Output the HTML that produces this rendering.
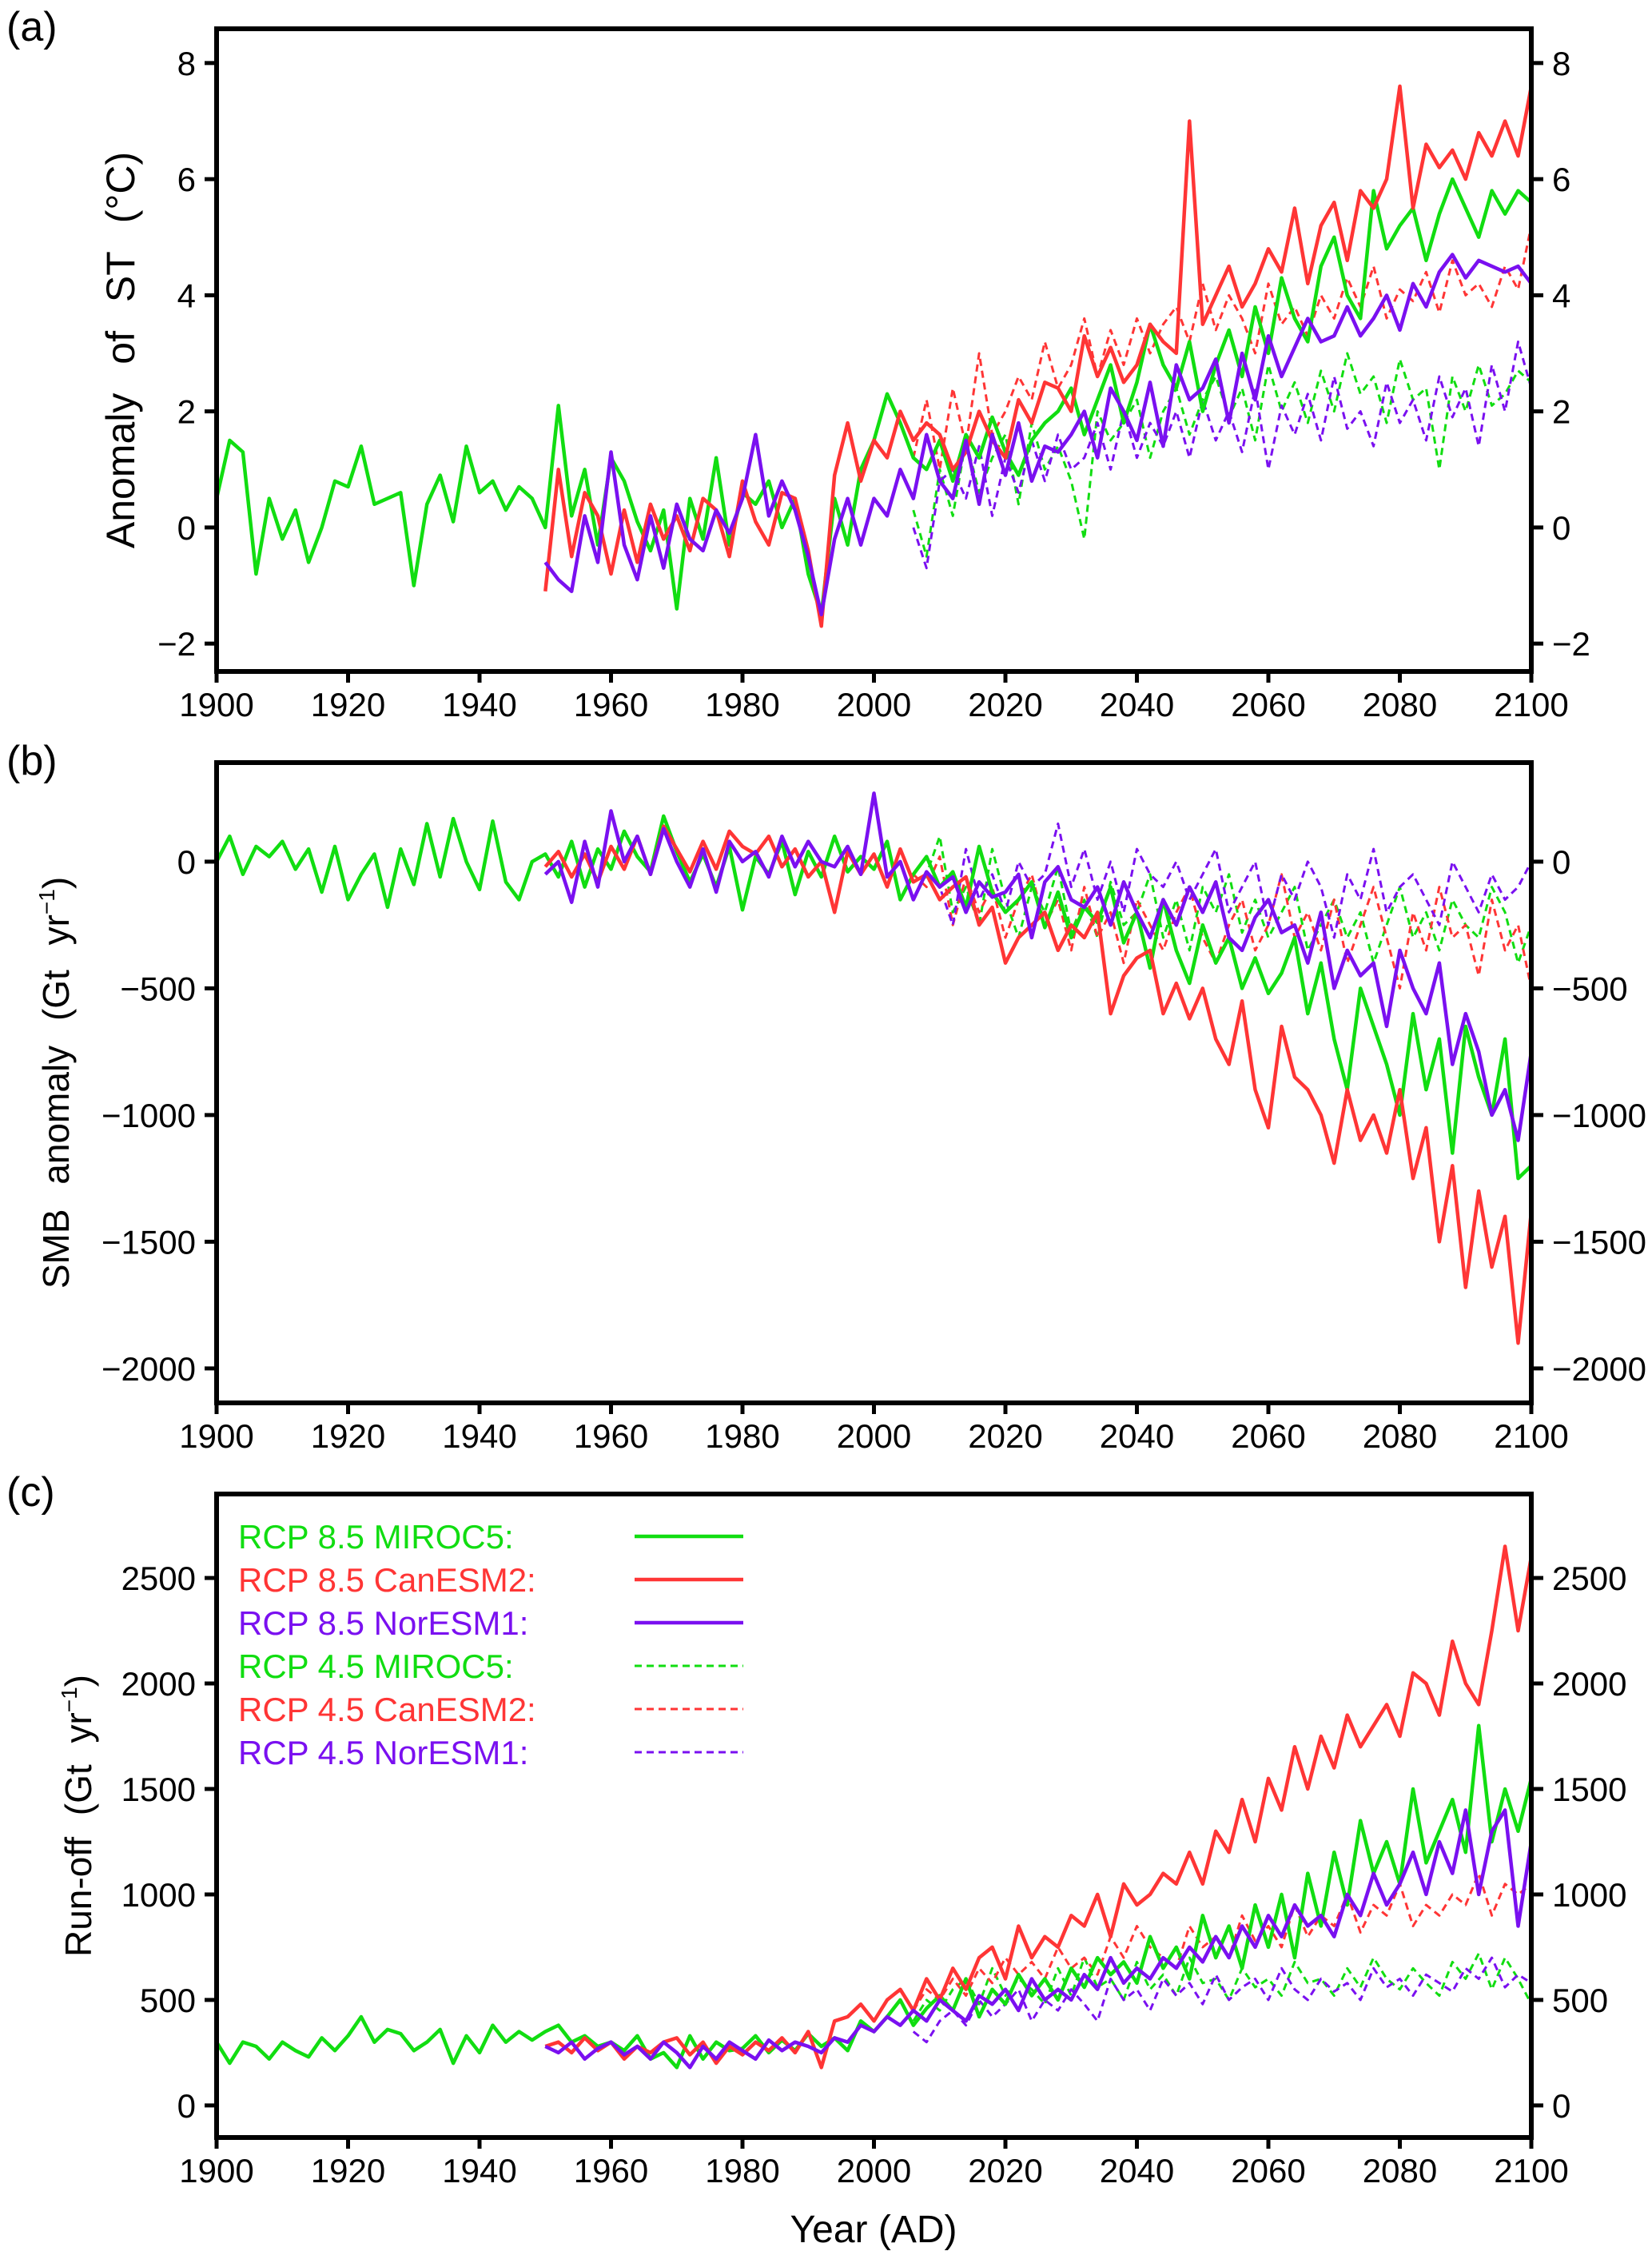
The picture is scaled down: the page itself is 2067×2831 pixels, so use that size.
<!DOCTYPE html>
<html><head><meta charset="utf-8"><style>
html,body{margin:0;padding:0;background:#fff}
svg{display:block}
text{font-family:"Liberation Sans","DejaVu Sans",sans-serif}
</style></head><body>
<svg id="chart" width="2067" height="2831" viewBox="0 0 2067 2831" xmlns="http://www.w3.org/2000/svg"></svg>
<script>
// ===== Panel (a) surface temperature anomaly =====
const stM85=[0.5,1.5,1.3,-0.8,0.5,-0.2,0.3,-0.6,0.0,0.8,0.7,1.4,0.4,0.5,0.6,-1.0,0.4,0.9,0.1,1.4,0.6,0.8,0.3,0.7,0.5,0.0,2.1,0.2,1.0,-0.3,1.2,0.8,0.1,-0.4,0.3,-1.4,0.5,-0.2,1.2,-0.3,0.6,0.4,0.8,0.0,0.5,-0.8,-1.5,0.5,-0.3,1.0,1.5,2.3,1.8,1.2,1.0,1.5,0.8,1.6,1.2,1.9,1.3,0.9,1.5,1.8,2.0,2.4,1.6,2.2,2.8,1.8,2.5,3.5,2.8,2.4,3.2,2.0,2.8,3.4,2.6,3.8,3.0,4.3,3.6,3.2,4.5,5.0,4.0,3.6,5.8,4.8,5.2,5.5,4.6,5.4,6.0,5.5,5.0,5.8,5.4,5.8,5.6];
const stC85=[-1.1,1.0,-0.5,0.6,0.2,-0.8,0.3,-0.6,0.4,-0.2,0.2,-0.4,0.5,0.3,-0.5,0.8,0.1,-0.3,0.6,0.5,-0.4,-1.7,0.9,1.8,0.8,1.5,1.2,2.0,1.5,1.8,1.6,1.0,1.3,2.0,1.5,1.2,2.2,1.8,2.5,2.4,2.0,3.3,2.6,3.1,2.5,2.8,3.5,3.2,3.0,7.0,3.5,4.0,4.5,3.8,4.2,4.8,4.4,5.5,4.2,5.2,5.6,4.6,5.8,5.5,6.0,7.6,5.5,6.6,6.2,6.5,6.0,6.8,6.4,7.0,6.4,7.6];
const stN85=[-0.6,-0.9,-1.1,0.2,-0.6,1.3,-0.3,-0.9,0.2,-0.7,0.4,-0.2,-0.4,0.3,-0.1,0.5,1.6,0.2,0.8,0.3,-0.5,-1.5,-0.2,0.5,-0.3,0.5,0.2,1.0,0.5,1.6,0.8,0.5,1.5,0.4,1.6,0.9,1.8,0.8,1.4,1.3,1.6,2.0,1.2,2.4,2.0,1.5,2.5,1.4,2.8,2.2,2.4,2.9,1.8,3.0,2.2,3.3,2.6,3.1,3.6,3.2,3.3,3.8,3.3,3.6,4.0,3.4,4.2,3.8,4.4,4.7,4.3,4.6,4.5,4.4,4.5,4.2];
const stM45=[0.3,-0.5,1.0,0.2,1.5,0.6,1.2,1.6,0.4,1.8,1.0,1.4,0.8,-0.2,2.0,1.5,1.8,2.2,1.2,2.0,2.4,1.6,2.2,2.6,1.9,2.4,1.5,2.8,2.0,2.5,1.8,2.7,2.0,3.0,2.3,2.6,1.8,2.9,2.2,2.4,1.0,2.6,2.0,2.8,2.1,2.3,2.7,2.5];
const stC45=[1.2,2.2,1.0,2.4,1.4,3.0,1.6,2.0,2.6,2.2,3.2,2.4,2.8,3.6,2.6,3.4,2.8,3.6,3.0,3.5,3.8,3.2,4.2,3.4,4.0,3.6,3.0,4.2,3.5,3.8,3.3,4.0,3.6,4.3,3.8,4.5,3.6,4.1,3.9,4.4,3.7,4.6,4.0,4.2,3.8,4.5,4.1,5.2];
const stN45=[0.0,-0.7,0.8,1.0,0.5,1.4,0.2,1.2,0.6,1.5,0.8,1.6,1.0,1.2,1.8,1.0,2.0,1.2,1.8,1.4,2.0,1.2,2.2,1.5,2.0,1.3,2.4,1.0,2.1,1.6,2.3,1.5,2.6,1.7,2.0,1.4,2.5,1.8,2.2,1.5,2.6,1.9,2.4,1.4,2.8,2.0,3.2,2.4];
const stTicks=[-2,0,2,4,6,8];
// ===== Panel (b) SMB anomaly =====
const smbM85=[0,100,-50,60,20,80,-30,50,-120,60,-150,-50,30,-180,50,-90,150,-60,170,0,-110,160,-80,-150,0,30,-60,80,-100,50,-30,120,20,-40,180,40,-80,30,-100,60,-190,20,-50,80,-130,40,-60,100,-40,20,-30,80,-150,-50,20,-100,-40,-180,60,-120,-200,-150,-80,-260,-120,-300,-180,-240,-100,-320,-200,-420,-150,-350,-480,-250,-400,-300,-500,-380,-520,-440,-300,-600,-400,-700,-900,-500,-650,-800,-1000,-600,-900,-700,-1150,-650,-850,-1000,-700,-1250,-1200];
const smbC85=[-20,40,-60,30,-80,60,-30,100,-50,140,50,-40,80,-30,120,60,30,100,-20,50,-60,0,-200,40,-50,30,-100,50,-80,-50,-150,-100,-60,-250,-180,-400,-300,-250,-200,-350,-250,-300,-200,-600,-450,-380,-350,-600,-480,-620,-500,-700,-800,-550,-900,-1050,-650,-850,-900,-1000,-1190,-900,-1100,-1000,-1150,-900,-1250,-1050,-1500,-1200,-1680,-1300,-1600,-1400,-1900,-1380];
const smbN85=[-50,0,-160,80,-100,200,0,100,-50,130,0,-100,50,-120,80,0,40,-60,100,-20,80,0,-20,60,-50,270,-60,0,-150,-40,-100,-60,-200,-80,-140,-120,-50,-300,-80,-20,-150,-180,-100,-250,-80,-200,-300,-150,-250,-100,-200,-80,-300,-350,-220,-150,-280,-250,-400,-200,-500,-350,-450,-400,-650,-350,-500,-600,-400,-800,-600,-750,-1000,-900,-1100,-750];
const smbM45=[-150,-50,100,-200,-100,-250,50,-150,-300,-100,-200,-20,-280,-150,-300,-80,-250,-200,-50,-300,-150,-350,-100,-200,-50,-280,-150,-300,-200,-100,-350,-250,-150,-300,-200,-400,-250,-100,-300,-200,-350,-150,-250,-300,-100,-200,-400,-250];
const smbC45=[-50,-100,20,-250,-60,-200,-100,-300,-150,-50,-250,-150,-350,-100,-300,-200,-400,-150,-250,-350,-200,-100,-300,-400,-250,-150,-350,-250,-50,-300,-200,-350,-150,-400,-250,-100,-300,-500,-200,-350,-100,-300,-250,-450,-150,-350,-250,-500];
const smbN45=[-50,20,-100,-250,50,-150,-50,-200,0,-100,-50,150,-100,50,-150,0,-200,50,-50,-100,0,-150,-50,50,-200,-100,0,-250,-50,-150,0,-100,-300,-50,-150,50,-200,-100,-50,-150,-250,0,-100,-200,-50,-150,-100,0];
const smbTicks=[-2000,-1500,-1000,-500,0];
// ===== Panel (c) run-off =====
const roM85=[300,200,300,280,220,300,260,230,320,260,330,420,300,360,340,260,300,360,200,330,250,380,300,350,310,350,380,300,330,280,300,260,330,220,250,180,330,220,300,260,270,330,250,310,260,340,280,320,260,400,350,420,500,380,460,520,450,600,420,550,480,620,520,600,500,650,560,700,620,680,580,800,650,750,600,900,700,850,650,950,750,1000,700,1100,850,1200,950,1350,1100,1250,1050,1500,1150,1300,1450,1200,1800,1250,1500,1300,1550];
const roC85=[280,300,250,320,260,300,220,280,250,300,320,240,300,200,280,240,300,260,320,250,350,180,400,420,480,400,500,550,450,600,500,650,550,700,750,600,850,700,800,750,900,850,1000,800,1050,950,1000,1100,1050,1200,1050,1300,1200,1450,1250,1550,1400,1700,1500,1750,1600,1850,1700,1800,1900,1750,2050,2000,1850,2200,2000,1900,2250,2650,2250,2600];
const roN85=[280,250,300,220,270,300,240,280,220,300,250,180,280,220,300,260,220,310,260,300,280,250,320,300,380,350,420,380,450,400,500,450,400,520,480,550,450,600,500,550,500,620,550,700,580,650,600,700,650,750,680,800,700,850,750,900,800,950,850,900,800,1000,900,1100,950,1050,1200,1000,1250,1100,1400,1000,1300,1400,850,1250];
const roM45=[400,500,450,550,600,480,650,520,600,550,480,650,520,700,560,600,500,680,550,620,520,700,580,600,500,650,560,600,520,680,580,600,520,650,560,700,600,550,650,580,520,680,600,720,550,700,600,480];
const roC45=[450,550,500,600,520,650,580,700,620,680,600,750,650,700,620,800,700,850,750,700,650,850,750,800,700,900,780,850,750,950,800,900,850,1000,820,950,900,1050,850,950,900,1000,950,1100,900,1050,1000,1050];
const roN45=[350,300,400,450,380,500,420,480,550,400,500,450,550,480,400,600,500,550,450,600,520,580,480,620,500,560,600,500,650,550,500,600,540,580,500,650,560,600,520,620,580,540,650,600,700,560,620,580];
const roTicks=[0,500,1000,1500,2000,2500];
const xTicks=[1900,1920,1940,1960,1980,2000,2020,2040,2060,2080,2100];
const legendLabels=["RCP  8.5  MIROC5:","RCP  8.5  CanESM2:","RCP  8.5  NorESM1:","RCP  4.5  MIROC5:","RCP  4.5  CanESM2:","RCP  4.5  NorESM1:"];

const NS="http://www.w3.org/2000/svg";
const svg=document.getElementById('chart');
const GREEN="#11dd11",RED="#ff3535",PURPLE="#7a10f0";
const X0=271,X1=1916;
function xs(yr){return X0+(yr-1900)/200*(X1-X0);}
function mk(tag,attrs,parent){const e=document.createElementNS(NS,tag);for(const k in attrs)e.setAttribute(k,attrs[k]);(parent||svg).appendChild(e);return e;}
function fmt(t){return t<0?'\u2212'+(-t):String(t);}

function panel(p){
  const g=mk('g',{});
  
  
  const ys=v=>p.top+(p.vmax-v)/(p.vmax-p.vmin)*(p.bot-p.top);
  const clip=mk('clipPath',{id:'clip-'+p.name},g);
  mk('rect',{x:X0,y:p.top,width:X1-X0,height:p.bot-p.top},clip);
  const sg=mk('g',{'clip-path':'url(#clip-'+p.name+')'},g);
  p.series.forEach(s=>{
    const pts=s.vals.map((v,i)=>xs(s.start+i*2).toFixed(1)+','+ys(v).toFixed(1)).join(' ');
    const pl=mk('polyline',{points:pts,fill:'none',stroke:s.color,'stroke-width':s.dash?3:4.5,'stroke-linejoin':'round','stroke-dasharray':s.dash?'9 6':'none'},sg);
    
    
  });
  const fr=mk('rect',{x:X0,y:p.top,width:X1-X0,height:p.bot-p.top,fill:'none',stroke:'#000','stroke-width':6},g);
  
  
  p.ticks.forEach(t=>{
    const y=ys(t);
    mk('line',{x1:X0-15,x2:X0,y1:y,y2:y,stroke:'#000','stroke-width':5},g);
    mk('line',{x1:X1,x2:X1+15,y1:y,y2:y,stroke:'#000','stroke-width':5},g);
    const lt=mk('text',{x:X0-26,y:y+15,'text-anchor':'end','font-size':42},g);lt.textContent=fmt(t);
    
    
    const rt=mk('text',{x:X1+26,y:y+15,'text-anchor':'start','font-size':42},g);rt.textContent=fmt(t);
    
    
  });
  xTicks.forEach(t=>{
    const x=xs(t);
    mk('line',{x1:x,x2:x,y1:p.bot,y2:p.bot+14,stroke:'#000','stroke-width':5},g);
    const tx=mk('text',{x:x,y:p.bot+56,'text-anchor':'middle','font-size':42},g);tx.textContent=t;
    
    
  });
  const pl=mk('text',{x:8,y:p.top+15,'font-size':52},g);pl.textContent=p.label;
  
  
  const cy=(p.top+p.bot)/2;
  const yt=mk('text',{x:p.titleX,y:cy,'text-anchor':'middle','font-size':p.titleSize||46,'word-spacing':p.ws||10,transform:'rotate(-90 '+p.titleX+' '+cy+')'},g);
  yt.innerHTML=p.title;
  
  
}
function S(name,vals,start,color,dash){return {name,vals,start,color,dash};}

panel({name:'panel-a-temperature',label:'(a)',top:36,bot:840,vmin:-2.48,vmax:8.59,ticks:stTicks,titleX:168,titleSize:50,ws:22,
  title:'Anomaly of ST (°C)',
  series:[S('miroc5-rcp45',stM45,2006,GREEN,1),S('canesm2-rcp45',stC45,2006,RED,1),S('noresm1-rcp45',stN45,2006,PURPLE,1),
          S('miroc5-rcp85',stM85,1900,GREEN,0),S('canesm2-rcp85',stC85,1950,RED,0),S('noresm1-rcp85',stN85,1950,PURPLE,0)]});
panel({name:'panel-b-smb',label:'(b)',top:954,bot:1755,vmin:-2136,vmax:391,ticks:smbTicks,titleX:86,ws:18,
  title:'SMB anomaly (Gt yr<tspan dy="-18" font-size="28">−1</tspan><tspan dy="18">)</tspan>',
  series:[S('miroc5-rcp45',smbM45,2006,GREEN,1),S('canesm2-rcp45',smbC45,2006,RED,1),S('noresm1-rcp45',smbN45,2006,PURPLE,1),
          S('miroc5-rcp85',smbM85,1900,GREEN,0),S('canesm2-rcp85',smbC85,1950,RED,0),S('noresm1-rcp85',smbN85,1950,PURPLE,0)]});
panel({name:'panel-c-runoff',label:'(c)',top:1869,bot:2674,vmin:-152,vmax:2898,ticks:roTicks,titleX:114,ws:14,
  title:'Run-off  (Gt yr<tspan dy="-18" font-size="28">−1</tspan><tspan dy="18">)</tspan>',
  series:[S('miroc5-rcp45',roM45,2006,GREEN,1),S('canesm2-rcp45',roC45,2006,RED,1),S('noresm1-rcp45',roN45,2006,PURPLE,1),
          S('miroc5-rcp85',roM85,1900,GREEN,0),S('canesm2-rcp85',roC85,1950,RED,0),S('noresm1-rcp85',roN85,1950,PURPLE,0)]});

// legend
const lg=mk('g',{});


const lcol=[GREEN,RED,PURPLE,GREEN,RED,PURPLE];
legendLabels.forEach((l,i)=>{
  const y=1922+i*54;
  const t=mk('text',{x:298,y:y+15,'font-size':42,fill:lcol[i],'xml:space':'preserve'},lg);t.textContent=l;
  
  
  mk('line',{x1:794,x2:930,y1:y,y2:y,stroke:lcol[i],'stroke-width':i<3?4.5:3,'stroke-dasharray':i<3?'none':'9 6'},lg);
});
const xt=mk('text',{x:1093,y:2805,'text-anchor':'middle','font-size':48});xt.textContent='Year (AD)';


</script>
</body></html>
